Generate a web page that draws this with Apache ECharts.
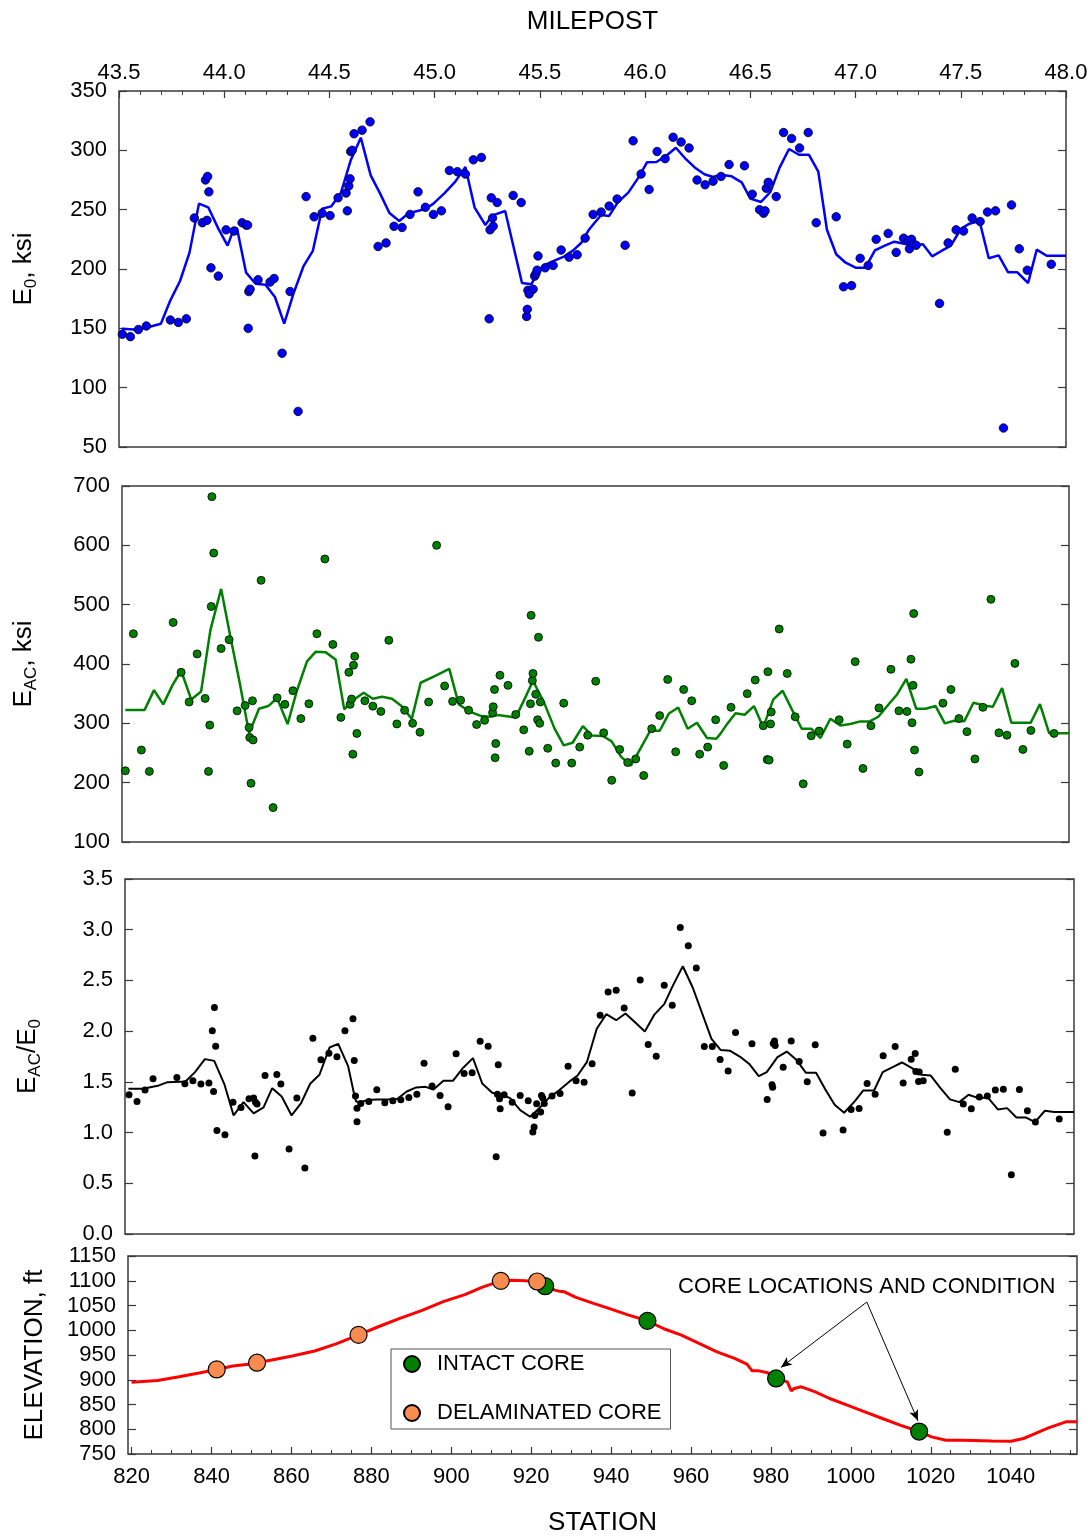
<!DOCTYPE html>
<html><head><meta charset="utf-8">
<script src="https://cdn.jsdelivr.net/npm/echarts@6/dist/echarts.min.js"></script>
<style>html,body{margin:0;padding:0;background:#fff}#c{width:1092px;height:1539px}</style>
</head><body><div id="c"></div>
<script>
// ---------- DATA ----------
const stationLabels = [820, 840, 860, 880, 900, 920, 940, 960, 980, 1000, 1020, 1040];
const stationMinorTicks = [825,830,835,845,850,855,865,870,875,885,890,895,905,910,915,925,930,935,945,950,955,965,970,975,985,990,995,1005,1010,1015,1025,1030,1035,1045,1050,1055];

// E0 (ksi) points: [milepost, value]
const e0Points = [
[43.516,145],[43.554,143],[43.592,149],[43.630,152],[43.744,157],[43.782,155],[43.820,158],[43.858,243],
[43.896,239],[43.918,241],[43.911,275],[43.921,278],[43.927,265],[43.937,201],[43.972,194],[44.009,233],
[44.047,232],[44.085,239],[44.104,237],[44.111,237],[44.114,150],[44.117,181],[44.123,183],[44.161,191],
[44.218,189],[44.237,192],[44.275,129],[44.313,181],[44.351,80],[44.389,261],[44.427,244],[44.465,247],
[44.503,245],[44.541,260],[44.579,264],[44.585,249],[44.592,270],[44.598,276],[44.601,299],[44.608,300],
[44.617,314],[44.655,317],[44.693,324],[44.731,219],[44.769,222],[44.807,236],[44.845,235],[44.883,246],
[44.921,265],[44.956,252],[44.994,246],[45.032,249],[45.070,283],[45.108,282],[45.146,280],[45.184,292],
[45.222,294],[45.259,158],[45.263,233],[45.269,260],[45.275,243],[45.278,236],[45.297,256],[45.373,262],
[45.411,256],[45.437,160],[45.440,166],[45.443,182],[45.449,179],[45.468,183],[45.475,194],[45.481,196],
[45.487,199],[45.491,211],[45.525,201],[45.563,203],[45.601,216],[45.639,210],[45.677,212],[45.715,226],
[45.753,246],[45.791,248],[45.829,253],[45.867,259],[45.905,220],[45.943,308],[45.981,280],[46.019,267],
[46.057,299],[46.095,293],[46.133,311],[46.171,307],[46.209,302],[46.247,275],[46.285,271],[46.323,274],
[46.361,278],[46.399,288],[46.472,287],[46.509,263],[46.544,250],[46.563,247],[46.570,249],[46.576,268],
[46.585,273],[46.623,261],[46.658,315],[46.696,310],[46.734,302],[46.775,315],[46.813,239],[46.908,244],
[46.943,185],[46.981,186],[47.022,209],[47.060,203],[47.098,225],[47.155,230],[47.193,214],[47.228,226],
[47.250,224],[47.256,217],[47.266,225],[47.275,221],[47.288,220],[47.399,171],[47.440,222],[47.478,233],
[47.513,232],[47.554,243],[47.592,240],[47.627,248],[47.665,249],[47.703,66],[47.741,254],[47.778,217],
[47.816,199],[47.930,204]
];
// E0 moving trend line
const e0Trend = [
[43.513,149.7],[43.592,148.9],[43.642,151.1],[43.699,153.9],[43.744,173.6],[43.790,189.9],[43.835,213.8],
[43.880,255.1],[43.924,252.0],[43.972,234.0],[44.016,219.7],[44.041,231.7],[44.060,234.8],[44.104,196.9],
[44.149,187.6],[44.196,186.8],[44.241,176.4],[44.285,153.9],[44.329,179.2],[44.377,202.5],[44.421,215.2],
[44.465,250.8],[44.509,252.8],[44.554,264.0],[44.601,291.6],[44.649,310.7],[44.696,278.9],[44.741,263.5],
[44.785,247.2],[44.832,240.4],[44.876,247.0],[44.956,250.6],[44.994,255.1],[45.047,264.0],[45.098,273.6],
[45.146,286.0],[45.190,251.7],[45.241,237.1],[45.272,245.0],[45.335,248.9],[45.415,188.2],[45.459,187.1],
[45.487,196.1],[45.525,203.4],[45.563,206.7],[45.617,210.7],[45.658,215.7],[45.696,221.9],[45.731,232.6],
[45.759,238.8],[45.791,245.5],[45.829,244.7],[45.870,256.2],[45.921,264.6],[45.968,277.0],[46.009,289.9],
[46.054,290.2],[46.101,295.5],[46.146,302.2],[46.190,293.3],[46.237,285.4],[46.282,279.8],[46.323,277.5],
[46.360,279.4],[46.411,278.1],[46.459,273.0],[46.500,259.3],[46.551,256.5],[46.595,264.9],[46.639,285.4],
[46.684,301.1],[46.731,296.3],[46.778,296.3],[46.823,282.0],[46.864,233.1],[46.908,212.4],[46.953,205.3],
[47.000,201.1],[47.047,201.1],[47.092,215.7],[47.139,219.7],[47.184,223.0],[47.231,221.3],[47.275,219.7],
[47.320,220.8],[47.364,210.7],[47.408,215.2],[47.453,219.7],[47.500,233.7],[47.541,238.2],[47.589,240.4],
[47.633,209.0],[47.680,211.5],[47.725,197.2],[47.769,197.2],[47.820,188.2],[47.861,216.3],[47.908,211.2],
[48.000,211.2]
];

// EAC (ksi) points: [milepost, value]
const eacPoints = [
[43.516,220],[43.554,451],[43.592,255],[43.630,219],[43.743,470],[43.781,386],[43.819,336],[43.857,417],
[43.895,342],[43.911,219],[43.917,297],[43.924,497],[43.927,682],[43.936,587],[43.971,426],[44.009,441],
[44.047,321],[44.085,330],[44.104,293],[44.107,276],[44.113,199],[44.120,338],[44.123,272],[44.161,541],
[44.218,158],[44.237,343],[44.274,332],[44.312,355],[44.350,308],[44.388,333],[44.426,451],[44.464,577],
[44.502,433],[44.540,310],[44.578,386],[44.584,332],[44.591,341],[44.597,248],[44.600,398],[44.606,413],
[44.616,283],[44.654,338],[44.692,329],[44.730,320],[44.768,440],[44.806,299],[44.843,322],[44.881,300],
[44.916,285],[44.957,336],[44.995,600],[45.033,363],[45.071,337],[45.109,339],[45.147,322],[45.185,298],
[45.223,305],[45.261,318],[45.264,328],[45.270,357],[45.273,242],[45.276,266],[45.296,381],[45.334,364],
[45.371,315],[45.409,289],[45.435,253],[45.441,333],[45.444,482],[45.450,372],[45.453,384],[45.466,349],
[45.475,306],[45.479,445],[45.485,300],[45.488,336],[45.523,258],[45.561,233],[45.599,334],[45.637,233],
[45.675,260],[45.713,280],[45.751,371],[45.789,284],[45.827,204],[45.865,256],[45.903,234],[45.941,240],
[45.979,212],[46.017,291],[46.055,313],[46.093,374],[46.131,252],[46.169,357],[46.207,338],[46.245,248],
[46.283,260],[46.321,306],[46.359,229],[46.394,327],[46.471,350],[46.509,373],[46.547,296],[46.566,239],
[46.575,238],[46.569,387],[46.582,299],[46.585,319],[46.623,459],[46.661,384],[46.699,311],[46.737,198],
[46.775,279],[46.813,287],[46.908,306],[46.946,265],[46.984,404],[47.021,224],[47.059,296],[47.097,326],
[47.154,391],[47.192,321],[47.230,320],[47.249,408],[47.254,301],[47.259,364],[47.262,485],[47.266,255],
[47.287,218],[47.401,334],[47.439,357],[47.477,308],[47.515,286],[47.553,240],[47.591,327],[47.629,509],
[47.667,284],[47.705,280],[47.743,401],[47.781,256],[47.819,288],[47.929,283]
];
const eacTrend = [
[43.516,322.3],[43.607,322.3],[43.652,356.0],[43.696,331.9],[43.740,364.4],[43.781,388.6],[43.829,340.3],
[43.876,353.8],[43.920,457.0],[43.971,526.6],[44.015,445.8],[44.060,367.2],[44.104,283.1],[44.151,324.6],
[44.195,329.1],[44.237,342.5],[44.287,298.8],[44.331,354.9],[44.379,404.3],[44.420,420.5],[44.467,420.0],
[44.515,407.6],[44.556,323.5],[44.600,339.2],[44.648,351.5],[44.692,341.4],[44.736,344.8],[44.783,341.4],
[44.828,329.1],[44.877,307.5],[44.919,368.4],[44.986,379.6],[45.055,391.9],[45.100,332.4],[45.150,320.1],
[45.207,312.2],[45.251,311.1],[45.286,313.9],[45.371,310.0],[45.415,342.5],[45.453,371.7],[45.507,333.6],
[45.555,291.5],[45.599,262.9],[45.641,267.3],[45.690,295.4],[45.732,279.7],[45.785,278.6],[45.827,269.6],
[45.871,243.8],[45.918,228.6],[45.966,258.9],[46.010,287.5],[46.055,287.5],[46.099,316.7],[46.143,326.8],
[46.188,290.9],[46.232,301.0],[46.280,275.2],[46.324,274.1],[46.345,283.1],[46.374,298.2],[46.415,317.0],
[46.459,314.5],[46.503,329.1],[46.547,293.2],[46.595,340.3],[46.639,354.9],[46.683,323.5],[46.730,290.9],
[46.775,290.9],[46.819,275.2],[46.866,307.7],[46.913,296.5],[46.961,298.8],[47.008,303.3],[47.053,303.3],
[47.094,311.1],[47.141,331.3],[47.182,348.1],[47.227,375.1],[47.274,324.6],[47.318,324.6],[47.366,329.1],
[47.410,299.9],[47.454,304.4],[47.502,303.3],[47.546,334.7],[47.593,330.2],[47.638,328.0],[47.682,359.4],
[47.726,301.0],[47.818,301.0],[47.862,332.4],[47.906,283.1],[48.000,283.1]
];

// EAC/E0 ratio points: [milepost, value]
const ratioPoints = [
[43.519,1.373],[43.557,1.307],[43.595,1.419],[43.633,1.530],[43.746,1.543],[43.784,1.481],[43.822,1.510],
[43.860,1.478],[43.898,1.488],[43.914,2.003],[43.920,1.405],[43.924,2.233],[43.930,1.852],[43.936,1.021],
[43.974,0.979],[44.012,1.300],[44.050,1.248],[44.088,1.333],[44.110,1.340],[44.116,0.769],[44.119,1.300],
[44.126,1.281],[44.164,1.563],[44.220,1.573],[44.239,1.478],[44.278,0.838],[44.315,1.340],[44.353,0.650],
[44.391,1.931],[44.429,1.717],[44.467,1.783],[44.505,1.747],[44.543,2.003],[44.581,2.121],[44.587,1.711],
[44.593,1.360],[44.600,1.241],[44.600,1.107],[44.618,1.287],[44.656,1.307],[44.694,1.422],[44.732,1.294],
[44.770,1.314],[44.808,1.323],[44.846,1.346],[44.884,1.379],[44.918,1.684],[44.956,1.458],[44.994,1.366],
[45.032,1.254],[45.070,1.776],[45.108,1.583],[45.146,1.589],[45.184,1.901],[45.222,1.852],[45.260,0.762],
[45.266,1.379],[45.270,1.668],[45.276,1.333],[45.279,1.235],[45.298,1.373],[45.336,1.300],[45.374,1.366],
[45.412,1.314],[45.434,1.005],[45.440,1.054],[45.443,1.169],[45.452,1.284],[45.471,1.202],[45.475,1.366],
[45.481,1.340],[45.488,1.287],[45.525,1.360],[45.563,1.386],[45.601,1.655],[45.639,1.510],[45.677,1.497],
[45.715,1.678],[45.753,2.157],[45.791,2.387],[45.829,2.403],[45.867,2.229],[45.905,1.389],[45.943,2.505],
[45.981,1.868],[46.019,1.753],[46.057,2.453],[46.095,2.256],[46.133,3.021],[46.171,2.843],[46.209,2.623],
[46.247,1.849],[46.285,1.849],[46.322,1.721],[46.360,1.606],[46.395,1.987],[46.473,1.875],[46.545,1.327],
[46.568,1.471],[46.571,1.448],[46.574,1.878],[46.580,1.904],[46.583,1.858],[46.621,1.645],[46.659,1.904],
[46.697,1.701],[46.735,1.501],[46.773,1.865],[46.810,0.995],[46.905,1.025],[46.943,1.228],[46.981,1.238],
[47.019,1.484],[47.057,1.379],[47.095,1.757],[47.152,1.849],[47.190,1.488],[47.228,1.724],[47.247,1.780],
[47.250,1.602],[47.266,1.596],[47.263,1.504],[47.285,1.510],[47.399,1.002],[47.437,1.625],[47.475,1.281],
[47.513,1.235],[47.551,1.350],[47.589,1.360],[47.627,1.419],[47.665,1.428],[47.703,0.585],[47.741,1.425],
[47.779,1.215],[47.817,1.103],[47.930,1.133]
];
const ratioTrend = [
[43.516,1.432],[43.585,1.432],[43.661,1.465],[43.702,1.497],[43.787,1.504],[43.832,1.596],[43.879,1.724],
[43.923,1.707],[43.971,1.478],[44.015,1.169],[44.062,1.300],[44.110,1.189],[44.157,1.248],[44.198,1.438],
[44.243,1.356],[44.290,1.169],[44.334,1.287],[44.378,1.481],[44.422,1.570],[44.470,1.839],[44.511,1.875],
[44.558,1.655],[44.587,1.373],[44.596,1.307],[44.618,1.300],[44.647,1.320],[44.694,1.327],[44.745,1.327],
[44.792,1.333],[44.836,1.405],[44.881,1.445],[44.925,1.451],[44.963,1.425],[45.010,1.510],[45.055,1.510],
[45.099,1.629],[45.150,1.734],[45.194,1.484],[45.241,1.392],[45.288,1.373],[45.326,1.340],[45.374,1.222],
[45.421,1.156],[45.468,1.248],[45.509,1.340],[45.560,1.419],[45.604,1.497],[45.646,1.563],[45.690,1.694],
[45.737,2.023],[45.782,2.167],[45.829,2.108],[45.873,2.174],[45.921,2.082],[45.965,1.996],[46.009,2.160],
[46.057,2.266],[46.098,2.449],[46.145,2.640],[46.192,2.430],[46.237,2.174],[46.281,1.924],[46.325,1.813],
[46.370,1.806],[46.417,1.747],[46.461,1.675],[46.505,1.557],[46.543,1.596],[46.594,1.744],[46.638,1.799],
[46.682,1.721],[46.729,1.589],[46.777,1.589],[46.821,1.425],[46.865,1.274],[46.910,1.195],[46.960,1.307],
[47.001,1.415],[47.052,1.415],[47.093,1.596],[47.140,1.645],[47.184,1.691],[47.232,1.635],[47.276,1.570],
[47.320,1.563],[47.364,1.445],[47.412,1.327],[47.456,1.300],[47.500,1.373],[47.547,1.340],[47.591,1.346],
[47.639,1.228],[47.683,1.241],[47.727,1.149],[47.771,1.149],[47.815,1.103],[47.862,1.215],[47.906,1.202],
[48.000,1.202]
];

// Elevation profile (ft) along station
const elevationProfile = [
[820,895],[826.5,898.5],[831.9,906],[837.2,914],[841.3,920.8],[845.3,927.6],[849.8,931.7],[855.1,939.8],
[860.5,948.6],[865.8,958],[871.2,972.4],[876.8,990.7],[881.9,1007.6],[887.3,1024.6],[892.7,1040.2],
[898.0,1057.8],[903.4,1072],[907.8,1087],[912.4,1099.8],[915.0,1101.2],[918.6,1099.8],[921.5,1097],
[923.6,1088.5],[925.9,1081],[927.0,1079],[927.5,1076.5],[928.2,1078],[931.2,1066.3],[935.6,1054.2],
[940,1042.7],[944.4,1030.6],[949.1,1019.1],[953.2,1003],[957.6,990.2],[962.0,973.3],[966.5,956.5],
[970.9,943],[974.0,931.5],[975.3,918],[977.0,918],[979.2,914],[981.3,902.6],[984.1,895.8],[985.1,877.6],
[985.8,882.3],[987.6,885.7],[991.1,875.6],[994.7,862.1],[999.1,848.6],[1003.5,835.2],[1007.9,821.7],
[1012.3,808.2],[1017.1,795.4],[1020.2,784.6],[1023.8,777.9],[1028.2,777.9],[1035.2,776.5],[1040.1,775.9],
[1043.2,781.3],[1045.8,790],[1049.3,802.2],[1053.8,815],[1056.6,815]
];
const intactCores = [[923.5,1089],[949.1,1019],[981.3,902.6],[1017.1,795.4]];
const delaminatedCores = [[841.3,920.8],[851.4,934.4],[876.8,990.7],[912.4,1099.8],[921.5,1098.5]];
// annotation arrows: [from, to] in station/elevation units
const coreArrows = [
  [[1004.0,1057],[982.5,925]],
  [[1004.0,1057],[1016.8,817]]
];

// ---------- CHART ----------
const FONT = '"Liberation Sans", Arial, sans-serif';
const FRAME = '#3a3a3a';
const chart = echarts.init(document.getElementById('c'), null, {renderer: 'canvas'});

const grids = [
  {left: 117, top: 91, width: 949, height: 356},
  {left: 120, top: 486, width: 949, height: 356},
  {left: 125, top: 879, width: 949, height: 355},
  {left: 128, top: 1256, width: 949, height: 198}
].map(g => Object.assign(g, {show: true, borderColor: FRAME, borderWidth: 1.5, backgroundColor: 'transparent', containLabel: false}));

const tickLine = {lineStyle: {color: FRAME, width: 1.2}};
const label22 = {fontSize: 22, color: '#000', fontFamily: FONT};
const plain = v => String(v);
const subRich = () => ({
  m: {fontSize: 26, lineHeight: 32, fontFamily: FONT, color: '#000'},
  s: {fontSize: 17, lineHeight: 16, verticalAlign: 'bottom', fontFamily: FONT, color: '#000'}
});

function leftY(grid, min, max, interval, name, gap, fmt) {
  return {
    type: 'value', gridIndex: grid, position: 'left', min, max, interval,
    axisLine: {show: false}, splitLine: {show: false},
    axisTick: Object.assign({show: true, inside: true, length: 8}, tickLine),
    axisLabel: Object.assign({margin: 12, formatter: fmt || plain}, label22),
    name, nameLocation: 'middle', nameRotate: 90, nameGap: gap,
    nameTextStyle: {rich: subRich(), fontSize: 26, lineHeight: 32, fontFamily: FONT, color: '#000'}
  };
}
function rightY(grid, min, max, interval) {
  return {
    type: 'value', gridIndex: grid, position: 'right', min, max, interval,
    axisLine: {show: false}, splitLine: {show: false},
    axisTick: Object.assign({show: true, inside: true, length: 8}, tickLine),
    axisLabel: {show: false}
  };
}

const option = {
  animation: false,
  backgroundColor: '#fff',
  textStyle: {fontFamily: FONT},
  grid: grids,
  legend: {
    data: ['INTACT CORE', 'DELAMINATED CORE'],
    orient: 'vertical', left: 391, top: 1349,
    padding: [4, 9, 5, 12], itemGap: 27, itemWidth: 40, itemHeight: 16,
    textStyle: {fontSize: 22, color: '#000', fontFamily: FONT},
    borderColor: '#555', borderWidth: 1, backgroundColor: '#fff',
    icon: 'circle', selectedMode: false
  },
  xAxis: [
    {
      type: 'value', gridIndex: 0, position: 'top', min: 43.5, max: 48.0, interval: 0.5,
      axisLine: {show: false}, splitLine: {show: false},
      axisTick: Object.assign({show: true, inside: true, length: 7}, tickLine),
      minorTick: {show: true, splitNumber: 5, length: 4, lineStyle: {color: FRAME, width: 1}},
      minorSplitLine: {show: false},
      axisLabel: Object.assign({margin: 7, formatter: v => v.toFixed(1)}, label22),
      name: 'MILEPOST', nameLocation: 'middle', nameGap: 54,
      nameTextStyle: {fontSize: 26, lineHeight: 30, color: '#000', fontFamily: FONT}
    },
    {type: 'value', gridIndex: 1, min: 43.5, max: 48.0, show: false},
    {type: 'value', gridIndex: 2, min: 43.5, max: 48.0, show: false},
    {
      type: 'value', gridIndex: 3, position: 'bottom', min: 819.1, max: 1056.6,
      axisLine: {show: false}, splitLine: {show: false},
      axisTick: Object.assign({show: true, inside: true, length: 7, customValues: stationLabels}, tickLine),
      axisLabel: Object.assign({margin: 12, customValues: stationLabels, formatter: plain}, label22),
      name: 'STATION', nameLocation: 'middle', nameGap: 54,
      nameTextStyle: {fontSize: 26, lineHeight: 30, color: '#000', fontFamily: FONT}
    },
    {
      type: 'value', gridIndex: 3, position: 'bottom', min: 819.1, max: 1056.6,
      axisLine: {show: false}, splitLine: {show: false},
      axisTick: {show: true, inside: true, length: 4, customValues: stationMinorTicks, lineStyle: {color: FRAME, width: 1}},
      axisLabel: {show: false}
    }
  ],
  yAxis: [
    leftY(0, 50, 350, 50, '{m|E}{s|0}{m|, ksi}', 79),
    rightY(0, 50, 350, 50),
    leftY(1, 100, 700, 100, '{m|E}{s|AC}{m|, ksi}', 82),
    rightY(1, 100, 700, 100),
    leftY(2, 0, 3.5, 0.5, '{m|E}{s|AC}{m|/E}{s|0}', 81, v => v.toFixed(1)),
    rightY(2, 0, 3.5, 0.5),
    leftY(3, 750, 1150, 50, '{m|ELEVATION, ft}', 77),
    rightY(3, 750, 1150, 50)
  ],
  series: [
    {type: 'line', xAxisIndex: 0, yAxisIndex: 0, data: e0Trend, showSymbol: false, z: 2,
     lineStyle: {color: '#0000ff', width: 2.5}},
    {type: 'scatter', xAxisIndex: 0, yAxisIndex: 0, data: e0Points, symbolSize: 8.5, z: 3,
     itemStyle: {color: '#0000ff', borderColor: '#000', borderWidth: 0.8, opacity: 1}},
    {type: 'line', xAxisIndex: 1, yAxisIndex: 2, data: eacTrend, showSymbol: false, z: 2,
     lineStyle: {color: '#008000', width: 2.5}},
    {type: 'scatter', xAxisIndex: 1, yAxisIndex: 2, data: eacPoints, symbolSize: 8, z: 3,
     itemStyle: {color: '#008000', borderColor: '#000', borderWidth: 0.8, opacity: 1}},
    {type: 'line', xAxisIndex: 2, yAxisIndex: 4, data: ratioTrend, showSymbol: false, z: 2,
     lineStyle: {color: '#000', width: 2}},
    {type: 'scatter', xAxisIndex: 2, yAxisIndex: 4, data: ratioPoints, symbolSize: 7, z: 3,
     itemStyle: {color: '#000', opacity: 1}},
    {type: 'line', xAxisIndex: 3, yAxisIndex: 6, data: elevationProfile, showSymbol: false, z: 2,
     lineStyle: {color: '#ff0000', width: 3},
     markLine: {
       silent: true, symbol: ['none', 'arrow'], symbolSize: [7, 11],
       lineStyle: {color: '#000', width: 1, type: 'solid'}, label: {show: false},
       data: coreArrows.map(a => [{coord: a[0]}, {coord: a[1]}])
     }},
    {name: 'INTACT CORE', type: 'scatter', xAxisIndex: 3, yAxisIndex: 6, data: intactCores, symbolSize: 17, z: 4,
     itemStyle: {color: '#008000', borderColor: '#000', borderWidth: 1.2, opacity: 1}},
    {name: 'DELAMINATED CORE', type: 'scatter', xAxisIndex: 3, yAxisIndex: 6, data: delaminatedCores, symbolSize: 17, z: 4,
     itemStyle: {color: '#f98b4f', borderColor: '#000', borderWidth: 1.2, opacity: 1}}
  ],
  graphic: [
    {type: 'text', left: 678, top: 1276, z: 10,
     style: {text: 'CORE LOCATIONS AND CONDITION', fontSize: 22, fontFamily: FONT, fill: '#000'}}
  ]
};
chart.setOption(option);
</script>
</body></html>
